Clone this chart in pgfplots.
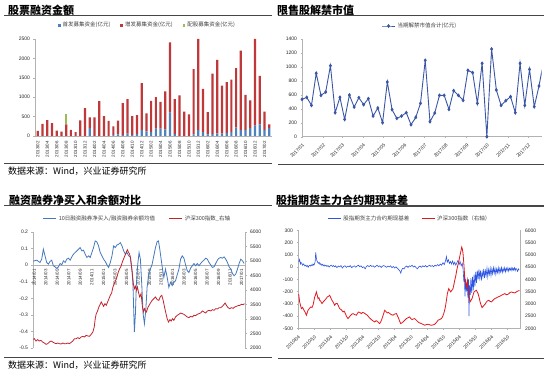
\documentclass[border=0pt]{standalone}
\usepackage{pgfplots}
\usepackage{pgfplotstable}
\pgfplotsset{compat=1.18}
\usepackage{fontspec}
\setmainfont{Liberation Sans}
\newfontfamily\cjk{Noto Sans CJK SC}
\definecolor{bBlue}{RGB}{79,129,189}
\definecolor{bRed}{RGB}{192,57,58}
\definecolor{bGreen}{RGB}{155,187,89}
\definecolor{trBlue}{RGB}{58,86,165}
\definecolor{blBlue}{RGB}{70,120,190}
\definecolor{blRed}{RGB}{195,35,45}
\definecolor{brBlue}{RGB}{45,85,225}
\definecolor{brRed}{RGB}{225,25,30}
\definecolor{ruleC}{RGB}{70,70,70}
\pgfplotsset{
  panel/.style={
    scale only axis,
    axis line style={draw=gray!60, line width=0.4pt},
    tick style={draw=gray!60, line width=0.3pt},
    tick align=outside,
    major tick length=1.5pt,
    ticklabel style={font=\fontsize{5}{6}\selectfont, text=black!85},
    /pgf/number format/assume math mode=true,
    /pgf/number format/1000 sep={},
    legend style={draw=none, fill=none, font=\cjk\fontsize{5.5}{6.5}\selectfont, text=black!75, inner sep=0pt},
    legend cell align=left,
  },
  linelegend/.style={legend image code/.code={\draw[mark repeat=2,mark phase=2,##1] plot coordinates {(0pt,0pt) (6.5pt,0pt) (13pt,0pt)};}},
}
\pgfplotstableread{
i ipo seo rig
0 0 130 0
1 0 310 0
2 0 410 0
3 0 330 0
4 0 140 0
5 0 110 0
6 0 300 270
7 0 160 0
8 0 100 0
9 0 400 0
10 0 720 0
11 200 280 0
12 0 480 0
13 0 900 0
14 0 510 0
15 0 390 0
16 30 215 0
17 40 355 0
18 20 825 0
19 60 890 0
20 30 485 0
21 50 490 0
22 160 1200 0
23 120 465 0
24 100 805 0
25 190 810 0
26 190 690 0
27 170 980 0
28 600 1815 0
29 50 900 0
30 0 1045 0
31 0 630 0
32 0 560 0
33 40 1685 0
34 150 2350 0
35 100 1115 0
36 40 575 0
37 50 1555 0
38 70 1895 0
39 60 1235 0
40 80 1310 0
41 100 1350 0
42 220 1530 0
43 150 2050 0
44 160 900 0
45 200 715 0
46 270 2230 0
47 300 1250 0
48 150 480 0
49 200 100 0
}\tl
\pgfplotstableread{
w v
0 535
1 564
2 449
3 908
4 592
5 640
6 1018
7 344
8 564
9 248
10 597
11 425
12 559
13 459
14 545
15 296
16 411
17 201
18 784
19 387
20 263
21 296
22 344
23 172
24 277
25 478
26 1094
27 215
28 339
29 592
30 592
31 392
32 659
33 592
34 521
35 951
36 917
37 478
38 1051
39 0
40 1256
41 669
42 449
43 516
44 573
45 344
46 1051
47 449
48 965
49 430
50 726
51 1090
}\tr
\begin{document}
\begin{tikzpicture}
\useasboundingbox (0,0) rectangle (550pt,374pt);
% titles and rules
\node[anchor=west, inner sep=0pt, font=\cjk\bfseries\fontsize{11}{12}\selectfont] at (8pt,364pt) {股票融资金额};
\node[anchor=west, inner sep=0pt, font=\cjk\bfseries\fontsize{11}{12}\selectfont] at (277pt,364pt) {限售股解禁市值};
\node[anchor=west, inner sep=0pt, font=\cjk\bfseries\fontsize{11}{12}\selectfont] at (9pt,173.7pt) {融资融券净买入和余额对比};
\node[anchor=west, inner sep=0pt, font=\cjk\bfseries\fontsize{11}{12}\selectfont] at (276pt,174pt) {股指期货主力合约期现基差};
\draw[ruleC, line width=1.1pt] (4pt,358.3pt) -- (272pt,358.3pt);
\draw[ruleC, line width=1.1pt] (278pt,358.3pt) -- (544pt,358.3pt);
\draw[ruleC, line width=0.8pt] (4pt,210.7pt) -- (272pt,210.7pt);
\draw[ruleC, line width=0.8pt] (278pt,210pt) -- (544pt,210pt);
\draw[ruleC, line width=1.1pt] (4pt,168.7pt) -- (272pt,168.7pt);
\draw[ruleC, line width=1.1pt] (278pt,168pt) -- (544pt,168pt);
\draw[ruleC, line width=0.8pt] (4pt,16.3pt) -- (272pt,16.3pt);
\draw[ruleC, line width=0.8pt] (278pt,15.3pt) -- (544pt,15.3pt);
\node[anchor=west, inner sep=0pt, font=\cjk\fontsize{9}{10}\selectfont] at (8pt,203.3pt) {数据来源：Wind，兴业证券研究所};
\node[anchor=west, inner sep=0pt, font=\cjk\fontsize{9}{10}\selectfont] at (8pt,9pt) {数据来源：Wind，兴业证券研究所};

% ---------- top left: bars
\begin{axis}[panel, at={(35pt,238pt)}, anchor=south west, width=237pt, height=97pt,
  ybar stacked, bar width=2.2pt,
  xmin=-0.6, xmax=49.6, ymin=0, ymax=2500, ytick={0,500,1000,1500,2000,2500},
  xtick={0,2,...,48},
  xticklabels={2013/02,2013/04,2013/06,2013/08,2013/10,2013/12,2014/02,2014/04,2014/06,2014/08,2014/10,2014/12,2015/02,2015/04,2015/06,2015/08,2015/10,2015/12,2016/02,2016/04,2016/06,2016/08,2016/10,2016/12,2017/02},
  xticklabel style={rotate=90, anchor=east, font=\fontsize{4.5}{5}\selectfont},
  xtick style={draw=none},
  axis x line*=bottom, axis y line*=left,
  legend columns=3,
  legend style={at={(0.475,1.141)}, anchor=center, /tikz/every even column/.append style={column sep=8pt}},
  legend image code/.code={\fill[#1] (0pt,-1.3pt) rectangle (2.6pt,1.3pt);},
]
\addplot[fill=bBlue, draw=none] table[x=i, y=ipo] {\tl};
\addplot[fill=bRed, draw=none] table[x=i, y=seo] {\tl};
\addplot[fill=bGreen, draw=none] table[x=i, y=rig] {\tl};
\legend{首发募集资金(亿元),增发募集资金(亿元),配股募集资金(亿元)}
\end{axis}

% ---------- top right: line
\begin{axis}[panel, at={(302pt,237.3pt)}, anchor=south west, width=239.7pt, height=97.7pt,
  xmin=0, xmax=50.57, ymin=0, ymax=1400, ytick={0,200,400,600,800,1000,1200,1400},
  xtick={0,4.43,8.43,12.86,17.14,21.57,25.86,30.29,34.71,39,43.43,47.71},
  xticklabels={2017/01,2017/02,2017/03,2017/04,2017/05,2017/06,2017/07,2017/08,2017/09,2017/10,2017/11,2017/12},
  xticklabel style={rotate=45, anchor=north east, font=\fontsize{4.8}{5}\selectfont},
  axis x line*=bottom, axis y line*=left,
  legend style={at={(0.492,1.133)}, anchor=center}, linelegend,
]
\addplot[trBlue, line width=0.9pt, mark=diamond*, mark size=1.3pt, mark options={solid}] table[x=w, y=v] {\tr};
\legend{当期解禁市值合计(亿元)}
\end{axis}

% ---------- bottom left
\begin{axis}[panel, at={(33pt,26pt)}, anchor=south west, width=212pt, height=116pt,
  xmin=-0.23, xmax=36.6, ymin=-0.5, ymax=0.2,
  ytick={-0.5,-0.4,-0.3,-0.2,-0.1,0,0.1,0.2},
  xtick={0,2,...,36},
  xticklabels={2014/01,2014/03,2014/05,2014/07,2014/09,2014/11,2015/01,2015/03,2015/05,2015/07,2015/09,2015/11,2016/01,2016/03,2016/05,2016/07,2016/09,2016/11,2017/01},
  xticklabel style={rotate=90, anchor=east, font=\fontsize{4.5}{5}\selectfont},
  xtick style={draw=none},
  axis x line=middle, axis y line*=left,
  every inner x axis line/.append style={-},
  x axis line style={-},
  legend columns=2,
  legend style={at={(0.493,1.115)}, anchor=center, /tikz/every even column/.append style={column sep=12pt}},
  linelegend,
]
\addplot[blBlue, line width=0.8pt] coordinates {
(-0.2,0.024)(0.00,0.026)(0.41,0.030)(0.99,0.016)(1.28,0.036)(1.57,0.096)(1.86,0.056)(2.15,0.016)(2.44,0.006)(2.73,0.022)(3.02,0.030)(3.31,-0.004)(3.60,-0.010)(3.90,-0.020)(4.19,-0.010)(4.48,0.010)(4.77,0.002)(5.06,0.026)(5.35,0.016)(5.64,0.036)(5.93,0.042)(6.22,0.030)(6.51,0.050)(6.80,0.066)(7.09,0.076)(7.38,0.086)(7.67,0.096)(7.97,0.106)(8.26,0.086)(8.55,0.090)(8.84,0.066)(9.13,0.046)(9.42,0.056)(9.71,0.046)(10.00,0.076)(10.29,0.106)(10.58,0.146)(10.87,0.140)(11.16,0.116)(11.45,0.076)(11.74,0.056)(12.03,0.036)(12.33,0.022)(12.62,0.002)(12.91,-0.014)(13.20,0.016)(13.49,0.056)(13.78,0.116)(14.07,0.106)(14.36,0.122)(14.65,0.126)(14.94,0.136)(15.23,0.116)(15.52,0.086)(15.81,0.066)(16.10,0.076)(16.40,0.056)(16.69,0.046)(16.98,-0.034)(17.15,-0.134)(17.38,-0.404)(17.56,-0.294)(17.73,-0.114)(17.97,0.006)(18.20,0.076)(18.43,0.036)(18.66,-0.114)(18.90,-0.294)(19.13,-0.354)(19.36,-0.274)(19.59,-0.134)(19.88,-0.054)(20.17,-0.024)(20.47,0.006)(20.76,0.056)(21.05,0.106)(21.34,0.142)(21.57,0.146)(21.80,0.096)(22.03,0.036)(22.27,-0.024)(22.50,-0.074)(22.79,-0.024)(23.08,-0.074)(23.37,-0.134)(23.66,-0.104)(23.95,-0.124)(24.24,-0.104)(24.53,-0.094)(24.83,-0.058)(25.12,-0.024)(25.41,0.036)(25.70,0.056)(25.99,0.042)(26.28,0.002)(26.57,-0.034)(26.86,-0.044)(27.15,-0.018)(27.44,-0.004)(27.73,0.010)(28.02,-0.004)(28.31,0.010)(28.60,-0.004)(28.90,0.010)(29.19,0.022)(29.48,0.030)(29.77,0.042)(30.06,0.036)(30.35,0.016)(30.64,0.002)(30.93,-0.014)(31.22,-0.010)(31.51,0.010)(31.80,0.030)(32.09,0.042)(32.38,0.046)(32.67,0.042)(32.97,0.050)(33.26,0.036)(33.55,0.016)(33.84,-0.010)(34.13,-0.024)(34.42,-0.050)(34.71,-0.064)(35.00,-0.054)(35.29,-0.024)(35.58,0.010)(35.87,0.036)(36.16,0.026)(36.45,0.010)
};
\addlegendentry{10日融资融券净买入/融资融券余额均值}
\addlegendimage{blRed, line width=0.8pt}
\addlegendentry{沪深300指数\_右轴}
\end{axis}
\begin{axis}[panel, at={(33pt,26pt)}, anchor=south west, width=212pt, height=116pt,
  xmin=-0.23, xmax=36.6, ymin=2000, ymax=6000,
  ytick={2000,2500,3000,3500,4000,4500,5000,5500,6000},
  axis x line=none, axis y line*=right,
]
\addplot[blRed, line width=0.8pt] coordinates {
(-0.2,2300)(0,2322)(0.29,2241)(0.58,2287)(0.87,2241)(1.16,2264)(1.45,2207)(1.74,2172)(2.03,2126)(2.33,2149)(2.62,2207)(2.91,2241)(3.20,2207)(3.49,2172)(3.78,2149)(4.07,2172)(4.36,2149)(4.65,2138)(4.94,2172)(5.23,2149)(5.52,2149)(5.81,2172)(6.10,2149)(6.40,2195)(6.69,2241)(6.98,2322)(7.27,2322)(7.56,2356)(7.85,2322)(8.14,2379)(8.43,2402)(8.72,2379)(9.01,2437)(9.30,2414)(9.59,2402)(9.88,2471)(10.17,2552)(10.41,2724)(10.58,3011)(10.76,3184)(10.99,3276)(11.22,3414)(11.45,3506)(11.63,3586)(11.80,3529)(12.03,3437)(12.27,3529)(12.50,3471)(12.73,3586)(12.97,3701)(13.20,3816)(13.43,3897)(13.66,4103)(13.90,4218)(14.13,4333)(14.36,4448)(14.59,4621)(14.83,4736)(15.06,4816)(15.29,4966)(15.52,5080)(15.76,5195)(15.99,5310)(16.16,5391)(16.34,5310)(16.51,5253)(16.69,5138)(16.86,4851)(17.03,4563)(17.21,4218)(17.38,4046)(17.56,4126)(17.73,3989)(17.91,4103)(18.08,3931)(18.31,3759)(18.55,3874)(18.78,3414)(18.95,3241)(19.13,3356)(19.30,3276)(19.48,3241)(19.71,3391)(19.94,3471)(20.17,3552)(20.47,3644)(20.76,3701)(21.05,3759)(21.34,3667)(21.63,3644)(21.92,3782)(22.15,3816)(22.38,3644)(22.62,3414)(22.85,3207)(23.08,3011)(23.31,2897)(23.55,2977)(23.78,2931)(24.01,3011)(24.24,2954)(24.53,3069)(24.83,3126)(25.12,3161)(25.41,3207)(25.70,3184)(25.99,3161)(26.28,3115)(26.57,3069)(26.86,3046)(27.15,3092)(27.44,3069)(27.73,3126)(28.02,3115)(28.31,3161)(28.60,3184)(28.90,3207)(29.19,3276)(29.48,3241)(29.77,3207)(30.06,3276)(30.35,3299)(30.64,3276)(30.93,3322)(31.22,3299)(31.51,3356)(31.80,3345)(32.09,3391)(32.38,3391)(32.67,3437)(32.97,3506)(33.14,3552)(33.37,3471)(33.66,3391)(33.95,3356)(34.24,3391)(34.53,3368)(34.83,3414)(35.12,3437)(35.41,3460)(35.70,3471)(35.99,3506)(36.28,3494)(36.51,3529)
};
\end{axis}

% ---------- bottom right
\begin{axis}[panel, at={(298pt,45.7pt)}, anchor=south west, width=222pt, height=98pt,
  xmin=0, xmax=82.7, ymin=-500, ymax=300,
  ytick={-500,-400,-300,-200,-100,0,100,200,300},
  xtick={0,6,...,78},
  xticklabels={2010/04,2010/10,2011/04,2011/10,2012/04,2012/10,2013/04,2013/10,2014/04,2014/10,2015/04,2015/10,2016/04,2016/10},
  xticklabel style={rotate=45, anchor=north east, font=\fontsize{4.8}{5}\selectfont},
  axis x line*=bottom, axis y line*=left,
  legend columns=2,
  legend style={at={(0.505,1.118)}, anchor=center, /tikz/every even column/.append style={column sep=10pt}},
  linelegend,
]
\addplot[brBlue, line width=0.6pt] coordinates {
(0.3,40)(0.5,62)(0.7,50)(0.9,25)(1.1,38)(1.4,30)(1.7,15)(2.0,25)(2.3,18)(2.6,8)(2.9,15)(3.2,5)(3.5,12)(3.8,-2)(4.1,10)(4.4,15)(4.7,8)(5.0,18)(5.3,12)(5.6,25)(5.9,15)(6.2,28)(6.4,45)(6.6,120)(6.8,80)(7.0,55)(7.3,40)(7.6,30)(7.9,38)(8.2,20)(8.5,28)(8.8,15)(9.1,22)(9.4,10)(9.7,18)(10.0,8)(10.4,15)(10.8,5)(11.2,12)(11.6,0)(12.0,10)(12.4,15)(12.8,5)(13.2,12)(13.6,2)(14.0,10)(14.5,-5)(15.0,8)(15.5,2)(16.0,12)(16.5,-8)(17.0,5)(17.5,10)(18.0,-3)(18.5,8)(19.0,2)(19.5,12)(20.0,-5)(20.5,5)(21.0,10)(21.5,-2)(22.0,8)(22.5,15)(23.0,3)(23.5,10)(24.0,-5)(24.5,2)(25.0,-15)(25.5,5)(26.0,12)(26.5,3)(27.0,15)(27.5,5)(28.0,10)(28.5,-2)(29.0,8)(29.5,15)(30.0,2)(30.5,10)(31.0,-3)(31.5,8)(32.0,12)(32.5,5)(33.0,-2)(33.5,8)(34.0,2)(34.5,10)(35.0,-5)(35.5,5)(36.0,-8)(36.5,2)(37.0,-10)(37.5,-20)(38.0,-35)(38.3,-50)(38.6,-25)(39.0,-10)(39.5,-15)(40.0,2)(40.5,8)(41.0,-3)(41.5,10)(42.0,5)(42.5,15)(43.0,0)(43.5,8)(44.0,-5)(44.5,-15)(45.0,2)(45.5,8)(46.0,-2)(46.5,10)(47.0,3)(47.5,12)(48.0,0)(48.5,8)(49.0,15)(49.5,5)(50.0,12)(50.5,2)(51.0,15)(51.5,8)(52.0,20)(52.5,10)(53.0,25)(53.5,15)(54.0,35)(54.5,20)(55.0,55)(55.3,85)(55.6,40)(56.0,60)(56.4,30)(56.8,45)(57.2,25)(57.6,50)(58.0,20)(58.4,40)(58.8,15)(59.2,35)(59.6,55)(60.0,20)(60.4,45)(60.8,10)(61.2,30)(61.5,-20)(61.8,-120)(62.0,-60)(62.2,-240)(62.4,-100)(62.7,-200)(63.0,-130)(63.3,-250)(63.5,-100)(63.7,-400)(63.9,-150)(64.2,-230)(64.4,-90)(64.7,-210)(65.0,-80)(65.3,-190)(65.6,-60)(65.9,-160)(66.2,-40)(66.5,-130)(66.8,-30)(67.1,-100)(67.4,-20)(67.7,-90)(68.0,-30)(68.3,-110)(68.6,-40)(68.9,-80)(69.2,-15)(69.5,-90)(69.8,-30)(70.1,-70)(70.4,-10)(70.7,-80)(71.0,-20)(71.3,-60)(71.6,-10)(71.9,-70)(72.2,-15)(72.5,-55)(72.8,-5)(73.1,-50)(73.4,-10)(73.7,-60)(74.0,-15)(74.3,-45)(74.6,-5)(74.9,-50)(75.2,-10)(75.5,-40)(75.8,-5)(76.1,-45)(76.4,-12)(76.7,-35)(77.0,-5)(77.3,-40)(77.6,-10)(77.9,-30)(78.2,-5)(78.5,-35)(78.8,-10)(79.1,-25)(79.4,-5)(79.7,-30)(80.0,-8)(80.3,-25)(80.6,-5)(80.9,-30)(81.2,-10)(81.5,-20)(81.8,-35)(82.1,-15)(82.4,-25)
};
\addlegendentry{股指期货主力合约期现基差}
\addlegendimage{brRed, line width=0.8pt}
\addlegendentry{沪深300指数（右轴）}
\end{axis}
\begin{axis}[panel, at={(298pt,45.7pt)}, anchor=south west, width=222pt, height=98pt,
  xmin=0, xmax=82.7, ymin=2000, ymax=6000,
  ytick={2000,2500,3000,3500,4000,4500,5000,5500,6000},
  axis x line=none, axis y line*=right,
]
\addplot[brRed, line width=0.8pt] coordinates {
(0.25,3400)(0.62,3076)(1.24,2804)(1.7,2850)(2.24,2736)(2.7,2650)(3.11,2532)(3.4,2620)(3.73,2736)(4.2,2800)(4.72,2872)(5.2,2850)(5.59,2940)(5.9,3100)(6.21,3280)(6.5,3350)(6.83,3484)(7.1,3380)(7.45,3212)(7.8,3250)(8.07,3144)(8.5,3100)(8.94,3008)(9.4,3080)(9.94,3144)(10.4,3200)(10.93,3280)(11.4,3310)(11.80,3348)(12.2,3250)(12.67,3144)(13.2,3050)(13.66,2940)(14.2,3020)(14.66,3008)(15.1,2900)(15.53,2804)(16.2,2750)(16.77,2668)(17.2,2700)(17.64,2600)(18.1,2480)(18.63,2396)(19.1,2460)(19.63,2532)(20.1,2580)(20.50,2600)(21.1,2560)(21.74,2532)(22.2,2620)(22.61,2668)(23.1,2640)(23.60,2600)(24.1,2650)(24.60,2627)(25.2,2580)(25.84,2532)(26.6,2430)(27.33,2355)(28.0,2300)(28.57,2260)(29.1,2310)(29.57,2287)(30.0,2230)(30.43,2192)(30.9,2280)(31.30,2396)(31.8,2560)(32.30,2736)(32.8,2680)(33.29,2627)(33.7,2650)(34.16,2600)(34.8,2560)(35.40,2532)(36.0,2580)(36.65,2600)(37.1,2500)(37.52,2396)(37.9,2280)(38.26,2192)(38.7,2220)(39.13,2260)(39.8,2330)(40.37,2396)(41.0,2430)(41.61,2464)(42.0,2400)(42.48,2355)(43.0,2380)(43.48,2396)(44.1,2330)(44.72,2260)(45.3,2220)(45.96,2192)(46.6,2160)(47.20,2124)(47.8,2150)(48.45,2165)(49.1,2140)(49.69,2124)(50.3,2140)(50.93,2165)(51.6,2240)(52.17,2328)(52.8,2360)(53.42,2396)(53.9,2480)(54.29,2600)(54.6,2720)(54.91,2872)(55.3,3150)(55.65,3416)(56.15,3620)(56.5,3550)(56.89,3484)(57.3,3550)(57.76,3620)(58.1,3800)(58.39,3960)(58.8,4150)(59.13,4368)(59.5,4550)(59.88,4708)(60.2,4900)(60.62,5116)(60.99,5320)(61.2,5250)(61.49,5048)(61.8,4600)(62.11,4096)(62.4,3900)(62.73,3688)(63.11,3960)(63.3,3700)(63.60,3416)(64.10,3076)(64.5,3150)(64.84,3212)(65.2,3350)(65.59,3484)(66.0,3520)(66.46,3552)(66.8,3480)(67.08,3416)(67.5,3250)(67.83,3076)(68.2,2950)(68.57,2844)(69.0,2900)(69.32,2940)(69.8,3000)(70.19,3076)(70.6,3120)(71.06,3144)(71.5,3100)(72.05,3076)(72.7,3150)(73.29,3212)(73.9,3240)(74.53,3280)(75.2,3310)(75.78,3348)(76.4,3380)(77.02,3416)(77.6,3370)(78.26,3389)(78.9,3450)(79.50,3484)(80.1,3460)(80.75,3443)(81.4,3490)(81.99,3525)(82.5,3540)
};
\end{axis}
\end{tikzpicture}
\end{document}
